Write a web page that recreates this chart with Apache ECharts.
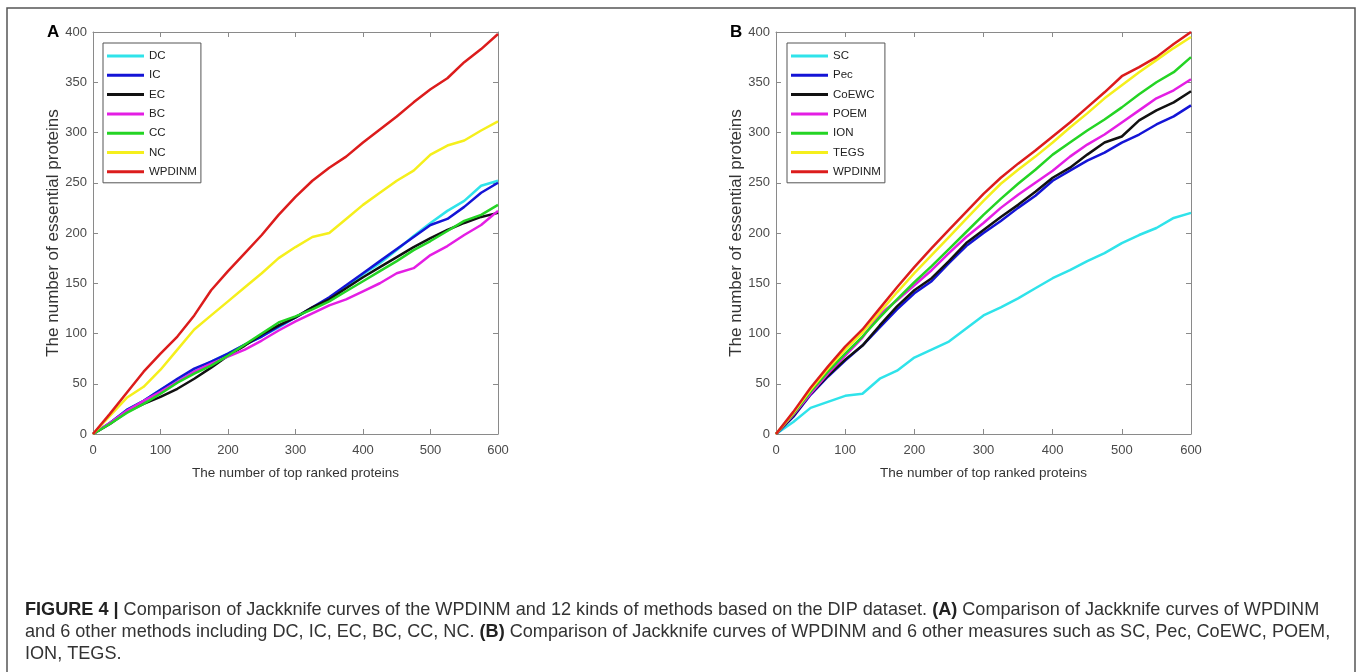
<!DOCTYPE html>
<html>
<head>
<meta charset="utf-8">
<script src="https://cdn.jsdelivr.net/npm/echarts/dist/echarts.min.js"></script>
<style>
  html, body { margin: 0; padding: 0; background: #fff; }
  #main { width: 1358px; height: 672px; }
</style>
</head>
<body>
<div id="main"></div>
<script>
// x positions (number of top ranked proteins)
var xValues = [0, 25, 50, 75, 100, 125, 150, 175, 200, 225, 250, 275, 300, 325, 350, 375, 400, 425, 450, 475, 500, 525, 550, 575, 600];
var xTicks = [0, 100, 200, 300, 400, 500, 600];
var yTicks = [0, 50, 100, 150, 200, 250, 300, 350, 400];

// panel A
var namesA = ['DC', 'IC', 'EC', 'BC', 'CC', 'NC', 'WPDINM'];
var aDC     = [0, 11, 24, 33, 44, 54, 63, 72, 80, 89, 97, 106, 116, 125, 135, 146, 159, 170, 183, 197, 210, 222, 232, 247, 252];
var aIC     = [0, 11, 24, 33, 44, 55, 65, 72, 80, 89, 97, 107, 116, 126, 136, 148, 160, 172, 184, 196, 208, 214, 226, 240, 250];
var aEC     = [0, 10, 22, 30, 37, 45, 55, 66, 78, 88, 99, 108, 116, 126, 134, 145, 156, 166, 176, 186, 195, 203, 210, 216, 220];
var aBC     = [0, 11, 23, 33, 42, 52, 62, 70, 77, 84, 93, 103, 112, 120, 128, 134, 142, 150, 160, 165, 178, 187, 198, 208, 222];
var aCC     = [0, 10, 21, 30, 40, 51, 60, 68, 78, 89, 100, 111, 117, 124, 132, 142, 152, 162, 172, 183, 192, 202, 212, 218, 228];
var aNC     = [0, 18, 36, 47, 64, 84, 104, 118, 132, 146, 160, 175, 186, 196, 200, 214, 228, 240, 252, 262, 278, 287, 292, 302, 311];
var aWPDINM = [0, 20, 41, 62, 80, 97, 118, 143, 162, 180, 198, 218, 236, 252, 265, 276, 290, 303, 316, 330, 343, 354, 370, 383, 398];

// panel B
var namesB = ['SC', 'Pec', 'CoEWC', 'POEM', 'ION', 'TEGS', 'WPDINM'];
var bSC     = [0, 12, 26, 32, 38, 40, 55, 63, 76, 84, 92, 105, 118, 126, 135, 145, 155, 163, 172, 180, 190, 198, 205, 215, 220];
var bPec    = [0, 17, 39, 57, 73, 88, 106, 124, 140, 152, 170, 187, 200, 212, 225, 237, 252, 262, 272, 280, 290, 298, 308, 316, 327];
var bCoEWC  = [0, 18, 40, 58, 74, 88, 108, 127, 143, 155, 172, 190, 203, 216, 228, 241, 255, 265, 278, 290, 296, 312, 322, 330, 341];
var bPOEM   = [0, 19, 40, 60, 78, 96, 119, 133, 148, 163, 180, 196, 210, 225, 238, 250, 262, 276, 288, 298, 310, 322, 334, 342, 353];
var bION    = [0, 20, 42, 62, 80, 97, 116, 134, 151, 167, 184, 201, 218, 234, 249, 263, 278, 290, 302, 313, 325, 338, 350, 360, 375];
var bTEGS   = [0, 21, 44, 65, 84, 101, 121, 141, 160, 178, 196, 214, 232, 249, 263, 276, 290, 305, 319, 334, 347, 360, 372, 384, 395];
var bWPDINM = [0, 22, 46, 67, 87, 104, 125, 146, 166, 185, 203, 221, 239, 255, 269, 282, 296, 310, 325, 340, 356, 365, 375, 388, 400];

var colors = ['#2fe3ea', '#1414d6', '#111111', '#e41ee4', '#24d424', '#f5ef1c', '#dc1c1c'];

var captionLines = [
    '{b|FIGURE 4 |} Comparison of Jackknife curves of the WPDINM and 12 kinds of methods based on the DIP dataset. {b|(A)} Comparison of Jackknife curves of WPDINM',
    'and 6 other methods including DC, IC, EC, BC, CC, NC. {b|(B)} Comparison of Jackknife curves of WPDINM and 6 other measures such as SC, Pec, CoEWC, POEM,',
    'ION, TEGS.'
];

function pairs(ys) {
    var out = [];
    for (var i = 0; i < xValues.length; i++) {
        out.push([xValues[i], ys[i]]);
    }
    return out;
}

var font = 'Liberation Sans, Arial, sans-serif';
var axisGray = '#8a8a8a';

function xAxisFor(grid, top) {
    return {
        gridIndex: grid,
        type: 'value',
        position: top ? 'top' : 'bottom',
        min: 0, max: 600, interval: 100,
        axisLine: { show: true, onZero: false, lineStyle: { color: axisGray, width: 1 } },
        axisTick: { show: true, inside: true, length: 5, lineStyle: { color: axisGray } },
        axisLabel: { show: !top, color: '#4a4a4a', fontSize: 13, fontFamily: font, margin: 10 },
        splitLine: { show: false },
        name: top ? '' : 'The number of top ranked proteins',
        nameLocation: 'middle',
        nameGap: 32,
        nameTextStyle: { color: '#333', fontSize: 13.5, fontFamily: font }
    };
}

function yAxisFor(grid, right) {
    return {
        gridIndex: grid,
        type: 'value',
        position: right ? 'right' : 'left',
        min: 0, max: 400, interval: 50,
        axisLine: { show: true, onZero: false, lineStyle: { color: axisGray, width: 1 } },
        axisTick: { show: true, inside: true, length: 5, lineStyle: { color: axisGray } },
        axisLabel: { show: !right, color: '#4a4a4a', fontSize: 13, fontFamily: font, margin: 6 },
        splitLine: { show: false },
        name: right ? '' : 'The number of essential proteins',
        nameLocation: 'middle',
        nameGap: 27,
        nameTextStyle: { color: '#333', fontSize: 17, fontFamily: font }
    };
}

function legendFor(names, left) {
    return {
        data: names,
        orient: 'vertical',
        left: left,
        top: 43,
        icon: 'rect',
        itemWidth: 37,
        itemHeight: 3,
        itemGap: 5.3,
        padding: [6, 4, 4, 4],
        borderColor: '#555',
        borderWidth: 1,
        backgroundColor: '#fff',
        selectedMode: false,
        textStyle: { fontSize: 11.5, color: '#222', fontFamily: font, lineHeight: 14 }
    };
}

var seriesA = [aDC, aIC, aEC, aBC, aCC, aNC, aWPDINM];
var seriesB = [bSC, bPec, bCoEWC, bPOEM, bION, bTEGS, bWPDINM];
var series = [];
seriesA.forEach(function (d, i) {
    series.push({
        name: namesA[i], type: 'line', xAxisIndex: 0, yAxisIndex: 0,
        data: pairs(d), showSymbol: false, symbol: 'none',
        color: colors[i], lineStyle: { width: 2.5, color: colors[i] }
    });
});
seriesB.forEach(function (d, i) {
    series.push({
        name: namesB[i], type: 'line', xAxisIndex: 2, yAxisIndex: 2,
        data: pairs(d), showSymbol: false, symbol: 'none',
        color: colors[i], lineStyle: { width: 2.5, color: colors[i] }
    });
});

var graphics = [
    { type: 'rect', shape: { x: 7, y: 8, width: 1348, height: 700 }, style: { fill: 'none', stroke: '#555', lineWidth: 1.5 }, silent: true },
    { type: 'text', left: 47, top: 24, style: { text: 'A', fill: '#000', font: 'bold 17px ' + font } },
    { type: 'text', left: 730, top: 24, style: { text: 'B', fill: '#000', font: 'bold 17px ' + font } }
];
captionLines.forEach(function (t, i) {
    graphics.push({
        type: 'text', left: 25, top: 601 + i * 22,
        style: {
            text: t, fill: '#333', fontSize: 18.1, fontFamily: font,
            rich: { b: { fontWeight: 'bold', fontSize: 18.1, fontFamily: font, fill: '#222' } }
        }
    });
});

var myChart = echarts.init(document.getElementById('main'));
var option = {
    animation: false,
    backgroundColor: '#fff',
    grid: [
        { left: 93, top: 32, width: 405, height: 402 },
        { left: 776, top: 32, width: 415, height: 402 }
    ],
    xAxis: [xAxisFor(0, false), xAxisFor(0, true), xAxisFor(1, false), xAxisFor(1, true)],
    yAxis: [yAxisFor(0, false), yAxisFor(0, true), yAxisFor(1, false), yAxisFor(1, true)],
    legend: [legendFor(namesA, 103), legendFor(namesB, 787)],
    series: series,
    graphic: graphics
};
myChart.setOption(option);
</script>
</body>
</html>
